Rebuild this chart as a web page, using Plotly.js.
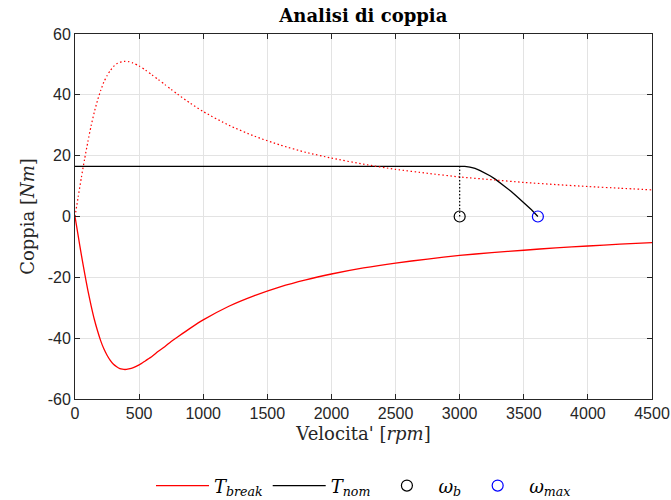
<!DOCTYPE html>
<html>
<head>
<meta charset="utf-8">
<script src="https://cdn.plot.ly/plotly-3.0.1.min.js"></script>
<style>html,body{margin:0;padding:0;background:#fff;}#chart{width:671px;height:500px;}</style>
</head>
<body>
<div id="chart"></div>
<script>
// Speed grid (rpm) for the breakdown torque curves
var rpm = [0, 25, 50, 75, 100, 125, 150, 175, 200, 225, 250, 275, 300, 325, 350, 370, 390, 420, 450, 500, 550,
           600, 650, 700, 750, 800, 900, 1000, 1200, 1400, 1600, 1800, 2000, 2250, 2500, 2750, 3000,
           3250, 3500, 3750, 4000, 4250, 4500];
// Motoring breakdown torque (dotted, positive)
var tBreakPos = [0, 6.5, 12.9, 18.9, 24.5, 29.7, 34.2, 38.1, 41.4, 44.2, 46.3, 48.0, 49.3, 50.2, 50.7, 50.9, 51.0, 50.9, 50.5, 49.5, 48.1,
                 46.6, 45.0, 43.4, 41.8, 40.2, 37.2, 34.5, 30.0, 26.4, 23.5, 21.1, 19.2, 17.2, 15.5, 14.2, 13.0,
                 12.1, 11.2, 10.5, 9.85, 9.3, 8.75];
// Braking torque (solid, negative)
var tBreakNeg = [0, -6.4, -12.7, -18.6, -24.2, -29.2, -33.7, -37.5, -40.8, -43.5, -45.6, -47.3, -48.6, -49.4, -50.0, -50.2, -50.3, -50.1, -49.8, -48.8, -47.4,
                 -46.0, -44.3, -42.8, -41.1, -39.6, -36.7, -34.0, -29.5, -26.0, -23.1, -20.8, -18.9, -16.9, -15.3, -14.0, -12.8,
                 -11.9, -11.1, -10.3, -9.7, -9.1, -8.6];
// Nominal torque curve
var nomRpm = [0, 3000, 3040, 3080, 3120, 3160, 3200, 3240, 3280, 3320, 3360, 3400, 3440, 3480, 3520, 3560, 3610];
var nomT   = [16.5, 16.5, 16.45, 16.2, 15.8, 15.1, 14.3, 13.3, 12.2, 11.0, 9.7, 8.3, 6.8, 5.3, 3.7, 2.2, 0];
// Base speed marker and vertical guide
var wbX = [3000], wbY = [0];
var guideX = [3000, 3000], guideY = [0, 16.5];
// Max speed marker
var wmaxX = [3610], wmaxY = [0];
// Tick labels
var xTickVals = [0, 500, 1000, 1500, 2000, 2500, 3000, 3500, 4000, 4500];
var xTickText = ['0', '500', '1000', '1500', '2000', '2500', '3000', '3500', '4000', '4500'];
var yTickVals = [-60, -40, -20, 0, 20, 40, 60];
var yTickText = ['-60', '-40', '-20', '0', '20', '40', '60'];

var serif = 'DejaVu Serif, Liberation Serif, serif';
var sans = 'Liberation Sans, Arial, Helvetica, sans-serif';

var traces = [
  {x: rpm, y: tBreakNeg, mode: 'lines', name: '<i>T</i><sub><i>break</i></sub>',
   line: {color: '#ff0000', width: 1.3, shape: 'spline', smoothing: 0.6}},
  {x: nomRpm, y: nomT, mode: 'lines', name: '<i>T</i><sub><i>nom</i></sub>',
   line: {color: '#000000', width: 1.3}},
  {x: wbX, y: wbY, mode: 'markers', name: '<i>ω</i><sub><i>b</i></sub>',
   marker: {symbol: 'circle-open', size: 11, color: '#000000', line: {width: 1.2}}},
  {x: wmaxX, y: wmaxY, mode: 'markers', name: '<i>ω</i><sub><i>max</i></sub>',
   marker: {symbol: 'circle-open', size: 11, color: '#0000ff', line: {width: 1.2}}},
  {x: rpm, y: tBreakPos, mode: 'lines', showlegend: false,
   line: {color: '#ff0000', width: 1.2, dash: '1.5px,2.5px', shape: 'spline', smoothing: 0.6}},
  {x: guideX, y: guideY, mode: 'lines', showlegend: false,
   line: {color: '#000000', width: 1.2, dash: '1.5px,2px'}}
];

var axisCommon = {
  showline: true, linecolor: '#262626', linewidth: 1, mirror: 'ticks',
  ticks: 'inside', ticklen: 5, tickcolor: '#262626', tickwidth: 1,
  showgrid: true, gridcolor: '#e3e3e3', gridwidth: 1, zeroline: false,
  automargin: false,
  tickfont: {family: sans, size: 16, color: '#262626'}
};

var layout = {
  width: 671, height: 500,
  margin: {l: 75, r: 19, t: 34, b: 101, autoexpand: false},
  paper_bgcolor: '#ffffff', plot_bgcolor: '#ffffff',
  title: {text: '<b>Analisi di coppia</b>', font: {family: serif, size: 18, color: '#000'},
          x: 0.5415, xanchor: 'center', y: 0.968, yanchor: 'middle'},
  xaxis: Object.assign({}, axisCommon, {
    range: [0, 4500], tickmode: 'array', tickvals: xTickVals, ticktext: xTickText,
    title: {text: "Velocita' [<i>rpm</i>]", font: {family: serif, size: 18, color: '#262626'}, standoff: 6}
  }),
  yaxis: Object.assign({}, axisCommon, {
    range: [-60, 60], tickmode: 'array', tickvals: yTickVals, ticktext: yTickText,
    title: {text: 'Coppia [<i>Nm</i>]', font: {family: serif, size: 18, color: '#262626'}, standoff: 8}
  }),
  showlegend: true,
  legend: {orientation: 'h', x: 0.5, xanchor: 'center', y: -0.238, yanchor: 'middle', itemwidth: 53,
           font: {family: serif, size: 18, color: '#000'}, bgcolor: 'rgba(0,0,0,0)', traceorder: 'normal'}
};

Plotly.newPlot('chart', traces, layout, {staticPlot: true, displayModeBar: false});
</script>
</body>
</html>
